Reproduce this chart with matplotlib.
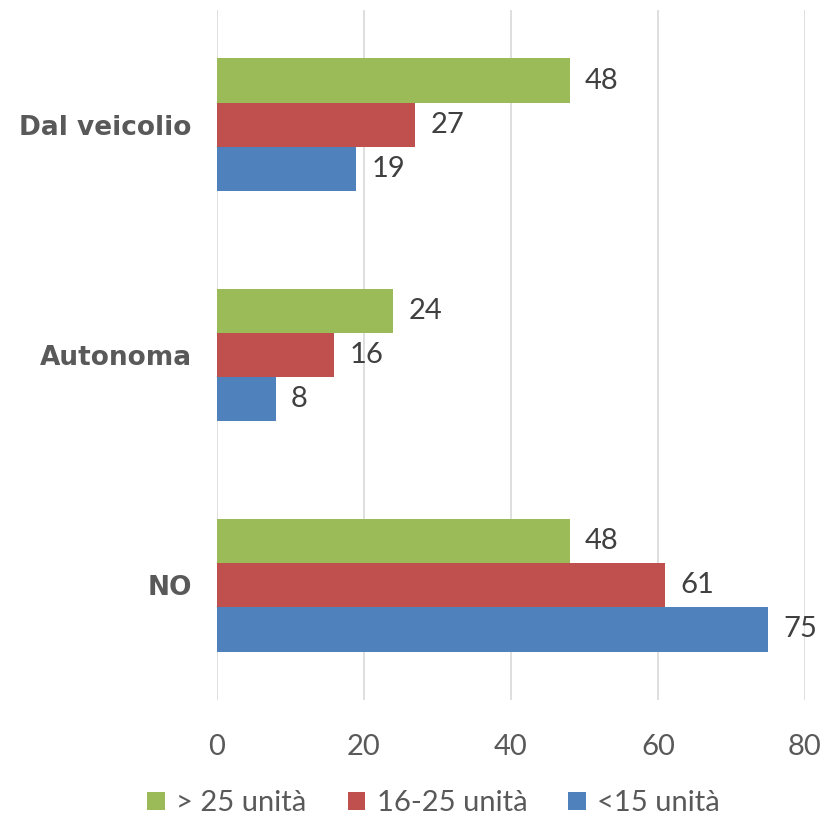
import matplotlib
matplotlib.use('Agg')
import matplotlib.pyplot as plt
import numpy as np

categories = ['NO', 'Autonoma', 'Dal veicolio']
series_names = ['> 25 unità', '16-25 unità', '<15 unità']
over_25 = [48, 24, 48]
from_16_to_25 = [61, 16, 27]
under_15 = [75, 8, 19]
x_ticks = [0, 20, 40, 60, 80]

colors = ['#9BBB59', '#C0504D', '#4F81BD']
values = [over_25, from_16_to_25, under_15]

fig = plt.figure(figsize=(8.34, 8.18), dpi=100)
ax = fig.add_axes([0.260, 0.144, 0.705, 0.844])

y = np.arange(len(categories))
h = 0.1926
offsets = [h, 0, -h]
bars = []
for vals, col, off, name in zip(values, colors, offsets, series_names):
    b = ax.barh(y + off, vals, height=h, color=col, label=name, zorder=3)
    bars.append(b)
    # value label just right of each bar
    for yy, v in zip(y + off, vals):
        ax.annotate(str(v), (v, yy), xytext=(11, 0), textcoords='offset points',
                    ha='left', va='center', fontsize=21, color='#404040',
                    family='Lato')

ax.set_xlim(0, 80)
ax.set_ylim(-0.5, 2.5)
ax.set_xticks(x_ticks)
ax.set_xticklabels([str(t) for t in x_ticks], family='Lato', fontsize=21, color='#595959')
ax.set_yticks(y)
ax.set_yticklabels(categories, fontsize=19, fontweight='bold', color='#595959')
ax.tick_params(axis='both', length=0)
ax.tick_params(axis='x', pad=24)
ax.tick_params(axis='y', pad=18)
ax.grid(axis='x', color='#d9d9d9', linewidth=1.2, zorder=0)
for s in ax.spines.values():
    s.set_visible(False)

leg = fig.legend(handles=bars, labels=series_names, loc='lower center',
                 bbox_to_anchor=(0.52, -0.03), ncol=3, frameon=False,
                 prop={'family': 'Lato', 'size': 21}, handlelength=0.6,
                 handleheight=0.6, handletextpad=0.4, columnspacing=1.4)
for t in leg.get_texts():
    t.set_color('#595959')

fig.savefig('out.png', dpi=100)
